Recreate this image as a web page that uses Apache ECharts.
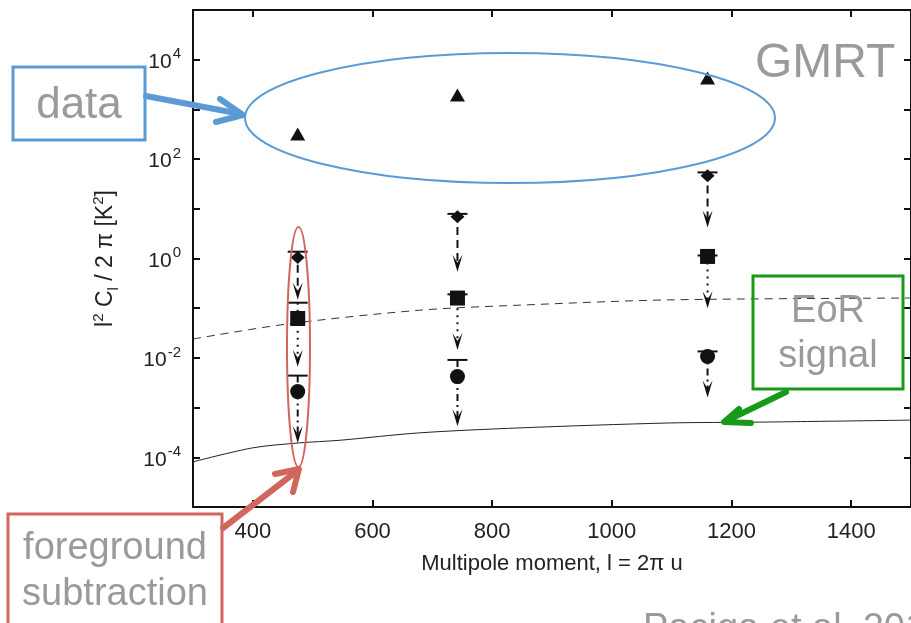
<!DOCTYPE html>
<html>
<head>
<meta charset="utf-8">
<script src="https://cdn.jsdelivr.net/npm/echarts@6/dist/echarts.min.js"></script>
<style>html,body{margin:0;padding:0;background:#fff}#c{width:911px;height:623px}</style>
</head>
<body>
<div id="c"></div>
<script>
// ---- data ----
const xTicks = [400, 600, 800, 1000, 1200, 1400];
const lValues = [475, 742, 1160];
const gmrtValues = [320, 1950, 4270];
const diamondValues = [1.05, 6.9, 46.5];
const diamondCaps = [1.37, 7.9, 54];
const diamondEnds = [0.148, 0.54, 4.2];
const squareValues = [0.062, 0.16, 1.1];
const squareCaps = [0.129, 0.19, 1.15];
const squareEnds = [0.0066, 0.0145, 0.10];
const circleValues = [0.0021, 0.0042, 0.0107];
const circleCaps = [0.0044, 0.0091, 0.0135];
const circleEnds = [1.95e-4, 4.2e-4, 0.0016];
const dashedL = [300, 457, 678, 845, 1095, 1500];
const dashedVals = [0.024, 0.048, 0.091, 0.115, 0.147, 0.16];
const solidL = [300, 400, 478, 545, 678, 845, 1095, 1245, 1500];
const solidVals = [8.1e-5, 1.55e-4, 1.95e-4, 2.2e-4, 3.1e-4, 3.9e-4, 4.9e-4, 5.1e-4, 5.6e-4];

const FONT = '"Liberation Sans", Arial, Helvetica, sans-serif';
const INK = '#111';
const BLUE = '#5B9BD5', RED = '#D0665D', GREEN = '#179A17', GREY = '#9a9a9a';

function zip(xs, ys) { return xs.map((x, i) => [x, ys[i]]); }
function arrowData(caps, ends) { return lValues.map((l, i) => [l, caps[i], ends[i]]); }

function arrowSeries(name, caps, ends, dash) {
  return {
    name, type: 'custom', z: 3,
    data: arrowData(caps, ends),
    encode: { x: 0, y: [1, 2] },
    renderItem: function (params, api) {
      const p0 = api.coord([api.value(0), api.value(1)]);
      const p1 = api.coord([api.value(0), api.value(2)]);
      return {
        type: 'group', children: [
          { type: 'line', shape: { x1: p0[0] - 10, y1: p0[1], x2: p0[0] + 10, y2: p0[1] }, style: { stroke: INK, lineWidth: 2 } },
          { type: 'line', shape: { x1: p0[0], y1: p0[1], x2: p1[0], y2: p1[1] - 6 }, style: { stroke: INK, lineWidth: 2, lineDash: dash } },
          { type: 'polygon', shape: { points: [[p1[0], p1[1]], [p1[0] - 5, p1[1] - 17], [p1[0], p1[1] - 9], [p1[0] + 5, p1[1] - 17]] }, style: { fill: INK } }
        ]
      };
    }
  };
}

function markerSeries(name, vals, symbol, size) {
  return { name, type: 'scatter', z: 4, symbol, symbolSize: size, itemStyle: { color: INK, opacity: 1 }, data: zip(lValues, vals) };
}

const yLabel = {
  formatter: function (v) {
    const e = Math.round(Math.log10(v));
    if (e % 2 !== 0) return '';
    return '{b|10}{s|' + e + '}';
  },
  margin: 12,
  rich: {
    b: { fontFamily: FONT, fontSize: 21, color: '#222', lineHeight: 26, verticalAlign: 'bottom' },
    s: { fontFamily: FONT, fontSize: 15, color: '#222', lineHeight: 26, verticalAlign: 'top', padding: [0, 0, 0, 1] }
  }
};

const axisCommon = {
  axisLine: { show: true, onZero: false, lineStyle: { color: INK, width: 2 } },
  axisTick: { inside: true, length: 7, lineStyle: { color: INK, width: 2 } },
  splitLine: { show: false }
};

const chart = echarts.init(document.getElementById('c'));
chart.setOption({
  animation: false,
  backgroundColor: '#fff',
  grid: { left: 193, top: 10, width: 720, height: 497 },
  xAxis: [
    Object.assign({}, axisCommon, {
      type: 'value', min: 300, max: 1500, position: 'bottom',
      axisTick: Object.assign({}, axisCommon.axisTick, { customValues: xTicks }),
      axisLabel: { customValues: xTicks, formatter: v => String(v), margin: 14, fontFamily: FONT, fontSize: 22, color: '#222' },
      name: 'Multipole moment, l = 2π u', nameLocation: 'middle', nameGap: 46,
      nameTextStyle: { fontFamily: FONT, fontSize: 22, color: '#222' }
    }),
    Object.assign({}, axisCommon, {
      type: 'value', min: 300, max: 1500, position: 'top',
      axisTick: Object.assign({}, axisCommon.axisTick, { customValues: xTicks }),
      axisLabel: { show: false }
    })
  ],
  yAxis: [
    Object.assign({}, axisCommon, {
      type: 'log', logBase: 10, min: 1e-5, max: 1e5, interval: 1, position: 'left',
      axisLabel: yLabel,
      name: '{a|l}{s|2}{a| C}{u|l}{a| / 2 π [K}{s|2}{a|]}',
      nameLocation: 'middle', nameGap: 72, nameRotate: 90,
      nameTextStyle: {
        rich: {
          a: { fontFamily: FONT, fontSize: 23, color: '#222', lineHeight: 30, verticalAlign: 'middle' },
          s: { fontFamily: FONT, fontSize: 15, color: '#222', lineHeight: 30, verticalAlign: 'top' },
          u: { fontFamily: FONT, fontSize: 15, color: '#222', lineHeight: 30, verticalAlign: 'bottom' }
        }
      }
    }),
    Object.assign({}, axisCommon, {
      type: 'log', logBase: 10, min: 1e-5, max: 1e5, interval: 1, position: 'right',
      axisLabel: { show: false }
    })
  ],
  series: [
    { name: 'EoR upper', type: 'line', z: 2, smooth: 0.3, symbol: 'none', data: zip(dashedL, dashedVals),
      lineStyle: { color: '#333', width: 1, type: [8, 6] } },
    { name: 'EoR', type: 'line', z: 2, smooth: 0.3, symbol: 'none', data: zip(solidL, solidVals),
      lineStyle: { color: '#222', width: 1 } },
    arrowSeries('diamond limits', diamondCaps, diamondEnds, [8, 5]),
    arrowSeries('square limits', squareCaps, squareEnds, [2, 5]),
    arrowSeries('circle limits', circleCaps, circleEnds, [7, 4, 2, 4]),
    markerSeries('GMRT data', gmrtValues, 'triangle', [15, 13]),
    markerSeries('diamond', diamondValues, 'diamond', [14, 13]),
    markerSeries('square', squareValues, 'rect', 15),
    markerSeries('circle', circleValues, 'circle', 15)
  ],
  graphic: [
    { type: 'text', z: 100, x: 755, y: 64, style: { text: 'GMRT', font: '48px ' + FONT, fill: GREY, align: 'left', verticalAlign: 'middle' } },
    // data annotation
    { type: 'ellipse', z: 100, shape: { cx: 510, cy: 118, rx: 265, ry: 65 }, style: { fill: 'transparent', stroke: BLUE, lineWidth: 2 } },
    { type: 'rect', z: 100, shape: { x: 13, y: 67, width: 132, height: 73 }, style: { fill: 'transparent', stroke: BLUE, lineWidth: 3 } },
    { type: 'text', z: 100, x: 79, y: 106, style: { text: 'data', font: '44px ' + FONT, fill: GREY, align: 'center', verticalAlign: 'middle' } },
    { type: 'line', z: 100, shape: { x1: 146, y1: 96, x2: 241, y2: 114 }, style: { stroke: BLUE, lineWidth: 6, lineCap: 'round' } },
    { type: 'polyline', z: 100, shape: { points: [[220, 99], [243, 115], [216, 122]] }, style: { stroke: BLUE, lineWidth: 6, lineCap: 'round', lineJoin: 'round', fill: 'transparent' } },
    // foreground annotation
    { type: 'ellipse', z: 100, shape: { cx: 298.5, cy: 347, rx: 11.5, ry: 120 }, style: { fill: 'transparent', stroke: RED, lineWidth: 2 } },
    { type: 'rect', z: 100, shape: { x: 8, y: 514, width: 214, height: 130 }, style: { fill: 'transparent', stroke: RED, lineWidth: 3 } },
    { type: 'text', z: 100, x: 115, y: 549, style: { text: 'foreground', font: '38px ' + FONT, fill: GREY, align: 'center', verticalAlign: 'middle' } },
    { type: 'text', z: 100, x: 115, y: 595, style: { text: 'subtraction', font: '38px ' + FONT, fill: GREY, align: 'center', verticalAlign: 'middle' } },
    { type: 'line', z: 100, shape: { x1: 223, y1: 528, x2: 297, y2: 471 }, style: { stroke: RED, lineWidth: 6, lineCap: 'round' } },
    { type: 'polyline', z: 100, shape: { points: [[275, 474], [299, 469], [293, 492]] }, style: { stroke: RED, lineWidth: 6, lineCap: 'round', lineJoin: 'round', fill: 'transparent' } },
    // EoR annotation
    { type: 'rect', z: 100, shape: { x: 753, y: 276, width: 150, height: 113 }, style: { fill: 'transparent', stroke: GREEN, lineWidth: 3 } },
    { type: 'text', z: 100, x: 828, y: 312, style: { text: 'EoR', font: '38px ' + FONT, fill: GREY, align: 'center', verticalAlign: 'middle' } },
    { type: 'text', z: 100, x: 828, y: 357, style: { text: 'signal', font: '38px ' + FONT, fill: GREY, align: 'center', verticalAlign: 'middle' } },
    { type: 'line', z: 100, shape: { x1: 786, y1: 392, x2: 726, y2: 421 }, style: { stroke: GREEN, lineWidth: 6, lineCap: 'round' } },
    { type: 'polyline', z: 100, shape: { points: [[739, 409], [724, 422], [751, 423]] }, style: { stroke: GREEN, lineWidth: 6, lineCap: 'round', lineJoin: 'round', fill: 'transparent' } },
    { type: 'text', z: 100, x: 643, y: 630, style: { text: 'Paciga et al. 2013', font: '38px ' + FONT, fill: GREY, align: 'left', verticalAlign: 'middle' } }
  ]
});
</script>
</body>
</html>
